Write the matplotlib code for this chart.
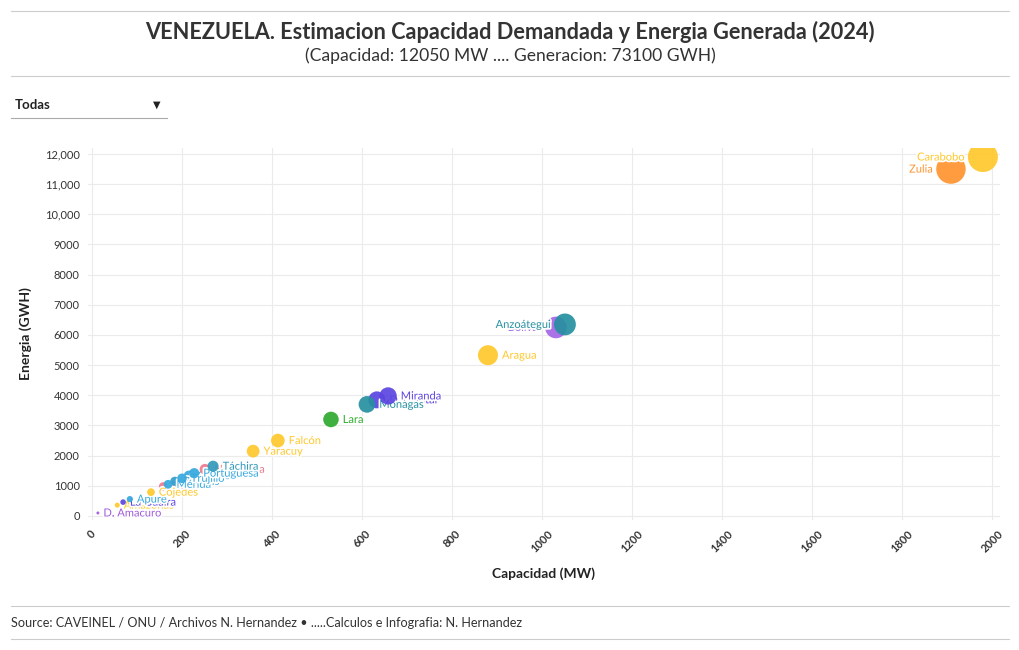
import numpy as np
import matplotlib.pyplot as plt
import matplotlib.patheffects as pe
from matplotlib.ticker import FuncFormatter
from matplotlib.lines import Line2D

plt.rcParams["font.family"] = ["Lato", "DejaVu Sans"]

# Estados (orden de dibujo)
estados = ["D. Amacuro", "Amazonas", "La Guaira", "Apure", "Sucre", "Guárico",
           "Barinas", "N. Esparta", "Cojedes", "Mérida", "Trujillo", "Portuguesa",
           "Táchira", "Yaracuy", "Falcón", "Lara", "D. Capital", "Monagas",
           "Miranda", "Aragua", "Bolívar", "Anzoátegui", "Zulia", "Carabobo"]

# Capacidad (MW)
capacidad = [13, 56, 69, 84, 158, 215, 184, 251, 131, 169, 200, 227,
             269, 358, 413, 531, 633, 611, 658, 880, 1031, 1051, 1909, 1980]

# Energia (GWH)
energia = [100, 360, 460, 560, 980, 1340, 1150, 1550, 790, 1050, 1250, 1420,
           1650, 2150, 2500, 3200, 3850, 3700, 3980, 5330, 6250, 6350, 11500, 11900]

# Colores por region
colores = ["#A05BDD", "#FFC82C", "#5B45E0", "#35A8DE", "#F07A90", "#35A8DE",
           "#2F9DCC", "#F07A90", "#FFC82C", "#35A8DE", "#35A8DE", "#35A8DE",
           "#3399BB", "#FFC82C", "#FFC82C", "#2EAA2E", "#5B45E0", "#2690A0",
           "#5B45E0", "#FFC82C", "#A567E6", "#2690A0", "#FF9430", "#FFC82C"]

etiqueta_izq = ["Bolívar", "Anzoátegui", "Zulia", "Carabobo"]

fig = plt.figure(figsize=(10.2, 6.5), dpi=100)
W, H = 1020, 650

ax = fig.add_axes([88 / W, 1 - 520 / H, (1000 - 88) / W, (520 - 148) / H])

# radio en pixeles proporcional a sqrt(capacidad)
cap = np.array(capacidad, dtype=float)
radio = 15 * np.sqrt(cap / cap.max())
radio = np.maximum(radio, 1.5)
size = (2 * radio * 0.72) ** 2

halo = [pe.withStroke(linewidth=2.5, foreground="white")]

for i, nombre in enumerate(estados):
    ax.scatter(capacidad[i], energia[i], s=size[i], color=colores[i],
               alpha=0.92, edgecolors="none", zorder=3 + i * 0.01)
    if nombre in etiqueta_izq:
        dx, ha = -(radio[i] + 3), "right"
    else:
        dx, ha = radio[i] + 4, "left"
    ax.annotate(nombre, (capacidad[i], energia[i]), xytext=(dx, 0),
                textcoords="offset pixels", ha=ha, va="center",
                fontsize=8, color=colores[i], zorder=3.005 + i * 0.01,
                path_effects=halo)

ax.set_xlim(-9, 2018)
ax.set_ylim(-133, 12199)
ax.set_xticks(range(0, 2001, 200))
ax.set_yticks(range(0, 12001, 1000))
ax.yaxis.set_major_formatter(
    FuncFormatter(lambda v, p: f"{int(v):,}" if v >= 10000 else f"{int(v)}"))
ax.grid(True, color="#EBEBEB", linewidth=0.8, zorder=0)
ax.set_axisbelow(True)
for s in ax.spines.values():
    s.set_visible(False)
ax.tick_params(length=0, labelsize=8, colors="#333333", pad=6)
for lbl in ax.get_xticklabels():
    lbl.set_rotation(45)
    lbl.set_fontweight("bold")
    lbl.set_ha("center")
    lbl.set_va("top")

ax.set_xlabel("Capacidad (MW)", fontsize=10, fontweight="bold",
              color="#222222", labelpad=9)
ax.set_ylabel("Energia (GWH)", fontsize=10, fontweight="bold",
              color="#222222", labelpad=9)

# Titulos
fig.text(510 / W, 1 - 32 / H, "VENEZUELA. Estimacion Capacidad Demandada y Energia Generada (2024)",
         ha="center", va="center", fontsize=15.7, fontweight="bold", color="#333333")
fig.text(510 / W, 1 - 56 / H, "(Capacidad: 12050 MW .... Generacion: 73100 GWH)",
         ha="center", va="center", fontsize=12.6, color="#333333")

# lineas separadoras
for yy in [11, 76, 606, 639]:
    fig.add_artist(Line2D([11 / W, 1009 / W], [1 - yy / H, 1 - yy / H],
                          color="#CCCCCC", linewidth=0.8))

# selector "Todas"
fig.text(15 / W, 1 - 105 / H, "Todas", ha="left", va="center",
         fontsize=9.5, fontweight="bold", color="#222222")
fig.text(157 / W, 1 - 105 / H, "▼", ha="center", va="center",
         fontsize=7, color="#222222", family="DejaVu Sans")
fig.add_artist(Line2D([11 / W, 167 / W], [1 - 118 / H, 1 - 118 / H],
                      color="#AAAAAA", linewidth=0.8))

fig.text(11 / W, 1 - 623 / H,
         "Source: CAVEINEL / ONU / Archivos N. Hernandez • .....Calculos e Infografia: N. Hernandez",
         ha="left", va="center", fontsize=9.1, color="#333333")

fig.savefig("out.png", dpi=100)
